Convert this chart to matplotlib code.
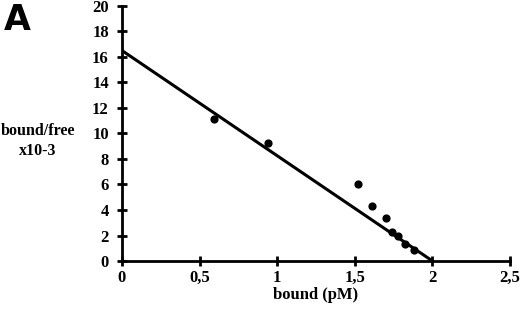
import numpy as np
import matplotlib
matplotlib.use("Agg")
import matplotlib.pyplot as plt

# data
bound = [0.595, 0.94, 1.52, 1.61, 1.70, 1.74, 1.78, 1.82, 1.88]
ratio = [11.1, 9.25, 6.0, 4.3, 3.4, 2.3, 1.95, 1.35, 0.85]
fit_x = [0.0, 2.0]
fit_y = [16.5, 0.0]
xticks = [0, 0.5, 1, 1.5, 2, 2.5]
xticklabels = ["0", "0,5", "1", "1,5", "2", "2,5"]
yticks = list(range(0, 21, 2))

plt.rcParams['font.family'] = ['Liberation Serif', 'DejaVu Serif']

fig = plt.figure(figsize=(5.2, 3.1), dpi=100)
ax = fig.add_axes([0.2346, 0.158, 0.981 - 0.2346, 0.981 - 0.158])

ax.plot(fit_x, fit_y, color='black', lw=2.2, solid_capstyle='butt')
ax.scatter(bound, ratio, s=24, color='black', zorder=3)

ax.set_xlim(0, 2.5)
ax.set_ylim(0, 20)
ax.set_xticks(xticks)
ax.set_xticklabels(xticklabels)
ax.set_yticks(yticks)

for s in ['top', 'right']:
    ax.spines[s].set_visible(False)
for s in ['left', 'bottom']:
    ax.spines[s].set_linewidth(2)
ax.tick_params(direction='inout', length=7, width=2, labelsize=12)
ax.tick_params(axis='x', pad=3)
ax.tick_params(axis='y', pad=6)
for lab in ax.get_xticklabels() + ax.get_yticklabels():
    lab.set_fontweight('bold')

ax.set_xlabel('bound (pM)', fontsize=12, fontweight='bold', labelpad=1)
fig.text(0.073, 0.545, 'bound/free\nx10-3', fontsize=11.5, fontweight='bold',
         ha='center', va='center', linespacing=1.3)
fig.text(0.008, 0.99, 'A', fontsize=25, fontweight='bold', family='DejaVu Sans',
         ha='left', va='top')

fig.savefig('out.png', dpi=100)
